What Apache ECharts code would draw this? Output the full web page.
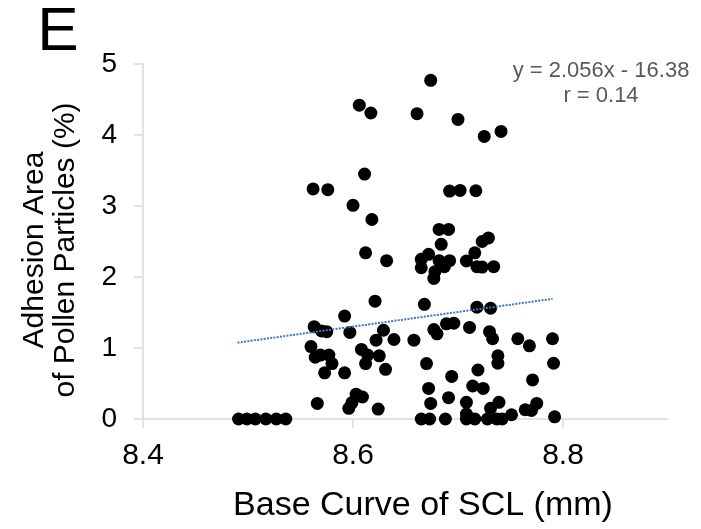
<!DOCTYPE html>
<html>
<head>
<meta charset="utf-8">
<script src="https://cdn.jsdelivr.net/npm/echarts@6/dist/echarts.min.js"></script>
<style>html,body{margin:0;padding:0;background:#fff;}#c{width:701px;height:529px;}</style>
</head>
<body>
<div id="c"></div>
<script>
// Base curve (mm) and adhesion area (%)
var baseCurve = [
  8.491, 8.499, 8.507, 8.517, 8.527, 8.536,
  8.560, 8.563, 8.570, 8.575, 8.564, 8.569, 8.577, 8.580, 8.573, 8.566, 8.562, 8.576,
  8.592, 8.597, 8.592, 8.596, 8.599, 8.603, 8.609, 8.600,
  8.606, 8.617, 8.611, 8.618, 8.612, 8.632, 8.621, 8.629, 8.622, 8.639, 8.658,
  8.608, 8.614, 8.625, 8.612, 8.631, 8.624,
  8.661, 8.674, 8.700, 8.692, 8.702, 8.682, 8.691, 8.684, 8.665, 8.672, 8.665,
  8.682, 8.692, 8.687, 8.678, 8.677, 8.668, 8.677, 8.680, 8.689, 8.696,
  8.670, 8.694, 8.672, 8.691, 8.674, 8.665, 8.673, 8.688,
  8.717, 8.725, 8.741, 8.723, 8.729, 8.716, 8.708, 8.718, 8.723, 8.734,
  8.718, 8.731, 8.711, 8.730, 8.733, 8.757, 8.768, 8.790,
  8.738, 8.738, 8.791, 8.719, 8.771, 8.714, 8.724,
  8.708, 8.739, 8.731, 8.775, 8.764, 8.770, 8.751, 8.792, 8.708,
  8.708, 8.716, 8.728, 8.737, 8.742
];
var adhesionArea = [
  0, 0, 0, 0, 0, 0,
  1.02, 1.30, 1.24, 1.23, 0.87, 0.90, 0.90, 0.78, 0.65, 0.22, 3.24, 3.23,
  1.45, 1.22, 0.65, 0.15, 0.23, 0.35, 0.31, 3.01,
  4.42, 4.31, 3.45, 2.81, 2.34, 2.23, 1.66, 1.25, 1.11, 1.12, 1.11,
  0.98, 0.90, 0.89, 0.78, 0.70, 0.14,
  4.30, 4.77, 4.22, 3.21, 3.22, 2.67, 2.67, 2.46, 2.25, 2.32, 2.13,
  2.23, 2.23, 2.145, 2.075, 1.98, 1.615, 1.26, 1.20, 1.34, 1.35,
  0.78, 0.60, 0.43, 0.30, 0.22, 0, 0, 0,
  3.215, 3.98, 4.05, 2.50, 2.55, 2.34, 2.225, 2.145, 2.14, 2.145,
  1.575, 1.56, 1.29, 1.23, 1.13, 1.13, 1.03, 1.13,
  0.89, 0.785, 0.785, 0.69, 0.55, 0.465, 0.43,
  0.235, 0.235, 0.15, 0.22, 0.13, 0.12, 0.06, 0.03, 0.07,
  0, 0, 0, 0, 0
];
var xTickLabels = [8.4, 8.6, 8.8];
var yTickLabels = [0, 1, 2, 3, 4, 5];
var trendSlope = 2.056;
var trendIntercept = -16.38;
var trendXRange = [8.49, 8.79];
var equationText = ['y = 2.056x - 16.38', 'r = 0.14'];
var xTitle = 'Base Curve of SCL (mm)';
var yTitle = ['Adhesion Area', 'of Pollen Particles (%)'];
var panelLetter = 'E';

var points = baseCurve.map(function (x, i) { return [x, adhesionArea[i]]; });
var trend = trendXRange.map(function (x) { return [x, trendSlope * x + trendIntercept]; });

var FONT = '"Liberation Sans", Arial, sans-serif';
var chart = echarts.init(document.getElementById('c'), null, { renderer: 'canvas' });
chart.setOption({
  animation: false,
  backgroundColor: '#ffffff',
  grid: { left: 143, right: 33, top: 64, bottom: 110, containLabel: false },
  xAxis: {
    type: 'value', min: 8.4, max: 8.9, interval: 0.2,
    splitLine: { show: false },
    axisLine: { show: true, onZero: false, lineStyle: { color: '#d9d9d9', width: 1.5 } },
    axisTick: { show: true, length: 9, customValues: xTickLabels, lineStyle: { color: '#d9d9d9', width: 1.5 } },
    axisLabel: { customValues: xTickLabels, margin: 22, color: '#000', fontSize: 30, fontFamily: FONT,
      formatter: function (v) { return v.toFixed(1); } }
  },
  yAxis: {
    type: 'value', min: 0, max: 5, interval: 1,
    splitLine: { show: false },
    axisLine: { show: true, lineStyle: { color: '#d9d9d9', width: 1.5 } },
    axisTick: { show: true, length: 9, lineStyle: { color: '#d9d9d9', width: 1.5 } },
    axisLabel: { margin: 26, color: '#000', fontSize: 28, fontFamily: FONT,
      formatter: function (v) { return yTickLabels.indexOf(v) >= 0 ? String(v) : ''; } }
  },
  series: [
    { type: 'scatter', data: points, symbol: 'circle', symbolSize: 13,
      itemStyle: { color: '#000', opacity: 1 }, z: 2, silent: true },
    { type: 'line', data: trend, symbol: 'none', z: 3, silent: true,
      lineStyle: { color: '#4472c4', width: 2, type: [2, 1.3] } }
  ],
  graphic: [
    { type: 'text', x: 58, y: 33, style: { text: panelLetter, font: '62px ' + FONT, fill: '#000', textAlign: 'center', textVerticalAlign: 'middle' } },
    { type: 'text', x: 601, y: 71, style: { text: equationText[0], font: '22px ' + FONT, fill: '#595959', textAlign: 'center', textVerticalAlign: 'middle' } },
    { type: 'text', x: 601, y: 95.5, style: { text: equationText[1], font: '22px ' + FONT, fill: '#595959', textAlign: 'center', textVerticalAlign: 'middle' } },
    { type: 'text', x: 423, y: 506, style: { text: xTitle, font: '34px ' + FONT, fill: '#000', textAlign: 'center', textVerticalAlign: 'middle' } },
    { type: 'text', x: 35, y: 250, rotation: Math.PI / 2, style: { text: yTitle[0], font: '30px ' + FONT, fill: '#000', textAlign: 'center', textVerticalAlign: 'middle' } },
    { type: 'text', x: 66, y: 250, rotation: Math.PI / 2, style: { text: yTitle[1], font: '30px ' + FONT, fill: '#000', textAlign: 'center', textVerticalAlign: 'middle' } }
  ]
});
</script>
</body>
</html>
